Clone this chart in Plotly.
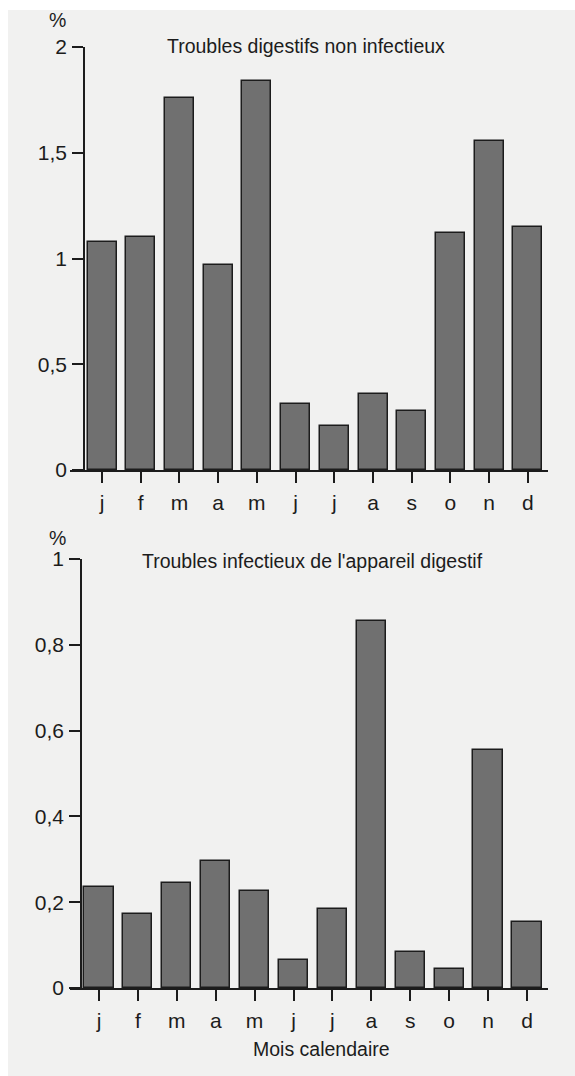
import plotly.graph_objects as go

months = ["j", "f", "m", "a", "m", "j", "j", "a", "s", "o", "n", "d"]
non_infectieux = [1.08, 1.10, 1.76, 0.97, 1.84, 0.31, 0.21, 0.36, 0.28, 1.12, 1.555, 1.15]
infectieux = [0.235, 0.173, 0.244, 0.296, 0.225, 0.065, 0.185, 0.855, 0.085, 0.045, 0.555, 0.155]
top_tickvals = [0, 0.5, 1, 1.5, 2]
top_ticktext = ["0", "0,5", "1", "1,5", "2"]
bot_tickvals = [0, 0.2, 0.4, 0.6, 0.8, 1]
bot_ticktext = ["0", "0,2", "0,4", "0,6", "0,8", "1"]
title_top = "Troubles digestifs non infectieux"
title_bot = "Troubles infectieux de l'appareil digestif"
xlabel = "Mois calendaire"

W, H = 575, 1076
FONT = "Liberation Sans, Arial, Helvetica, sans-serif"
INK = "#1c1c1c"
BAR = "#707070"

xs = list(range(len(months)))

def py(p):
    return 1 - p / H

def px(p):
    return p / W

fig = go.Figure()
fig.add_trace(go.Bar(x=xs, y=non_infectieux, width=0.75, xaxis="x", yaxis="y",
                     marker=dict(color=BAR, line=dict(color=INK, width=1.5)),
                     showlegend=False))
fig.add_trace(go.Bar(x=xs, y=infectieux, width=0.75, xaxis="x2", yaxis="y2",
                     marker=dict(color=BAR, line=dict(color=INK, width=1.5)),
                     showlegend=False))

axis_common = dict(showgrid=False, zeroline=False, showline=True, linecolor=INK,
                   linewidth=1.5, ticks="outside", ticklen=11, tickwidth=1.5,
                   automargin=False,
                   tickcolor=INK, tickfont=dict(family=FONT, size=21, color=INK))

TF = dict(family=FONT, size=19.5, color=INK)

def note(text, x, y):
    return dict(text=text, x=px(x), y=py(y), xref="paper", yref="paper",
                xanchor="center", yanchor="middle", showarrow=False, font=TF)

fig.update_layout(
    template="none",
    width=W, height=H,
    margin=dict(l=0, r=0, t=0, b=0, pad=0, autoexpand=False),
    paper_bgcolor="white",
    plot_bgcolor="rgba(0,0,0,0)",
    font=dict(family=FONT, color=INK),
    bargap=0,
    xaxis=dict(domain=[px(70), px(548)], range=[-0.827, 11.52], anchor="y",
               tickvals=xs, ticktext=months, ticklabelstandoff=2, **axis_common),
    yaxis=dict(domain=[py(470), py(47)], range=[0, 2], anchor="free", position=px(84),
               tickvals=top_tickvals, ticktext=top_ticktext, ticklabelstandoff=1,
               **axis_common),
    xaxis2=dict(domain=[px(70), px(548)], range=[-0.745, 11.54], anchor="y2",
                tickvals=xs, ticktext=months, ticklabelstandoff=2, **axis_common),
    yaxis2=dict(domain=[py(988), py(559)], range=[0, 1], anchor="free", position=px(81),
                tickvals=bot_tickvals, ticktext=bot_ticktext, ticklabelstandoff=1,
                **axis_common),
    shapes=[dict(type="rect", xref="paper", yref="paper", x0=px(8), x1=1, y0=-0.01, y1=py(10),
                 fillcolor="#f1f1f0", line=dict(width=0), layer="below")],
    annotations=[
        note(title_top, 306, 46),
        note(title_bot, 312, 561),
        note("%", 57, 20),
        note("%", 57, 538),
        note(xlabel, 321, 1049),
    ],
)

fig.write_html("out.html", config={"displayModeBar": False},
               post_script="document.body.style.margin='0';document.body.style.overflow='hidden';")
